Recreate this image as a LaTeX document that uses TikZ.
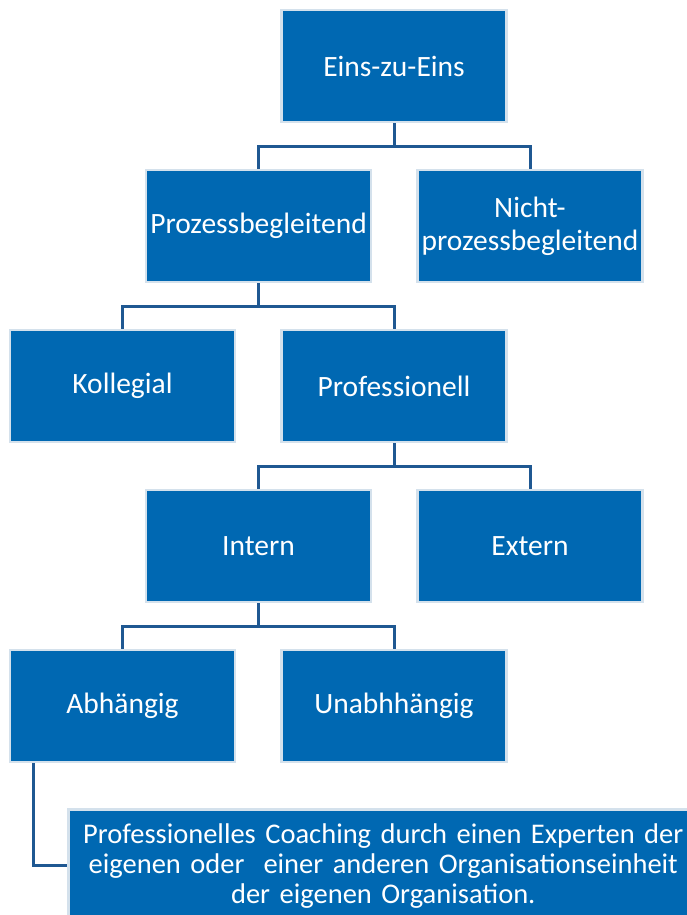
\documentclass[tikz,border=0pt]{standalone}
\usepackage{fontspec}
\setmainfont{Carlito}
\usetikzlibrary{positioning}

\definecolor{boxblue}{RGB}{0,104,178}
\definecolor{boxrim}{RGB}{212,225,236}
\definecolor{linkblue}{RGB}{31,88,146}

\begin{document}
\begin{tikzpicture}[x=1pt, y=-1pt, line join=miter, font=\fontsize{29.5}{33}\selectfont,
	stufe/.style={rectangle, fill=boxblue, draw=boxrim, line width=2.5pt, text=white,
		minimum width=225pt, minimum height=112pt, align=center, inner sep=2pt},
	link/.style={draw=linkblue, line width=3pt}]
	\useasboundingbox (0,0) rectangle (687,915);
	\clip (0,0) rectangle (687,915);

	% Kästen
	\node[stufe] (eins) at (394,66) {Eins-zu-Eins};
	\node[stufe] (proz) at (258.5,226) {Prozessbegleitend};
	\node[stufe] (nicht) at (530,226) {Nicht-\\prozessbegleitend};
	\node[stufe] (koll) at (122.5,386) {Kollegial};
	\node[stufe] (prof) at (394,386) {Professionell};
	\node[stufe] (intern) at (258.5,546) {Intern};
	\node[stufe] (extern) at (530,546) {Extern};
	\node[stufe] (abh) at (122.5,706) {Abhängig};
	\node[stufe] (unabh) at (394,706) {Unabhhängig};
	\node[stufe, minimum width=630pt, minimum height=114pt, anchor=north west, text width=626pt,
		font=\fontsize{28.5}{30}\selectfont] (info) at (67,808)
		{Professionelles Coaching durch einen Experten der\\
		eigenen oder\ \ einer anderen Organisationseinheit\\ der eigenen Organisation.};

	% Verbindungen
	\foreach \oben/\links/\rechts/\y in {eins/proz/nicht/146, proz/koll/prof/306,
		prof/intern/extern/466, intern/abh/unabh/626} {
		\draw[link] (\oben.south) -- (\oben.south |- 0,\y);
		\draw[link] (\links.north) -- (\links.north |- 0,\y) -- (\rechts.north |- 0,\y) -- (\rechts.north);
	}
	\coordinate (knick) at (33,865);
	\draw[link] (abh.south -| knick) -- (knick) -- (info.west |- knick);
\end{tikzpicture}
\end{document}
